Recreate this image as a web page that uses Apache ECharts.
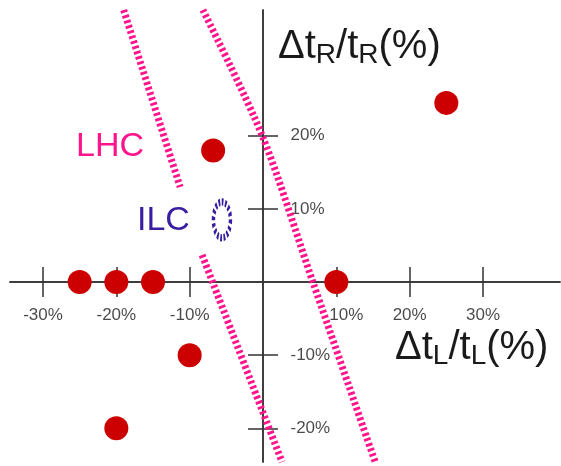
<!DOCTYPE html>
<html><head><meta charset="utf-8">
<script src="https://cdn.jsdelivr.net/npm/echarts@6/dist/echarts.min.js"></script>
<style>html,body{margin:0;padding:0;background:#fff}#c{width:561px;height:466px}</style>
</head><body><div id="c"></div>
<script>
// tick positions (percent)
const xTicks = [-30, -20, -10, 10, 20, 30];
const yTicks = [-20, -10, 10, 20];
// red model points (Δt_L/t_L %, Δt_R/t_R %)
const dotX = [-25, -20, -15, 10, 25, -6.8, -10, -20];
const dotY = [0, 0, 0, 0, 24.5, 18, -10, -20];
// LHC dotted bands
const lhcLeftTopX = [-19.0, -11.3];
const lhcLeftTopY = [37.2, 13.0];
const lhcLeftBotX = [-8.3, 2.6];
const lhcLeftBotY = [3.7, -24.6];
const lhcRightX = [-8.2, -0.1, 6.8, 15.3];
const lhcRightY = [37.2, 20, 0, -24.6];
// ILC ellipse centre
const ilcX = [-5.6];
const ilcY = [8.5];

const FONT = "'Liberation Sans', Arial, sans-serif";
const AX = '#333';
const PINK = '#ff148c';
const BLUE = '#3a1ea0';
const TXT = '#1a1a1a';
const zip = (xs, ys) => xs.map((x, i) => [x, ys[i]]);

const xBase = { type: 'value', min: -34.5, max: 40.5, splitLine: { show: false }, axisLabel: { show: false },
  axisLine: { show: true, onZero: true, lineStyle: { color: AX, width: 1.5 } } };
const yBase = { type: 'value', min: -24.6, max: 37.2, splitLine: { show: false }, axisLabel: { show: false },
  axisLine: { show: true, onZero: true, lineStyle: { color: AX, width: 1.5 } } };
const tickStyle = { color: AX, width: 1.5 };

const chart = echarts.init(document.getElementById('c'));
chart.setOption({
  animation: false,
  grid: { left: 10, right: 1, top: 10, bottom: 4, containLabel: false, outerBoundsMode: 'none' },
  xAxis: [
    Object.assign({}, xBase, { position: 'bottom',
      axisTick: { show: true, customValues: xTicks, length: 15, lineStyle: tickStyle } }),
    Object.assign({}, xBase, { position: 'bottom',
      axisTick: { show: true, inside: true, customValues: xTicks, length: 15, lineStyle: tickStyle } })
  ],
  yAxis: [
    Object.assign({}, yBase, { position: 'left',
      axisTick: { show: true, customValues: yTicks, length: 15, lineStyle: tickStyle } }),
    Object.assign({}, yBase, { position: 'left',
      axisTick: { show: true, inside: true, customValues: yTicks, length: 15, lineStyle: tickStyle } })
  ],
  series: [
    { type: 'line', data: zip(lhcLeftTopX, lhcLeftTopY), symbol: 'none', silent: true,
      lineStyle: { color: PINK, width: 7, type: [2.8, 2.6] } },
    { type: 'line', data: zip(lhcLeftBotX, lhcLeftBotY), symbol: 'none', silent: true,
      lineStyle: { color: PINK, width: 7, type: [2.8, 2.6] } },
    { type: 'line', data: zip(lhcRightX, lhcRightY), symbol: 'none', silent: true, smooth: 0.3,
      lineStyle: { color: PINK, width: 7, type: [2.8, 2.6] } },
    { type: 'scatter', data: zip(ilcX, ilcY), symbol: 'circle', symbolSize: [17, 36], silent: true,
      itemStyle: { color: 'rgba(0,0,0,0)', opacity: 1, borderColor: BLUE, borderWidth: 5, borderType: [2.6, 2.2] } },
    { type: 'scatter', data: zip(dotX, dotY), symbol: 'circle', symbolSize: 24, silent: true,
      itemStyle: { color: '#cc0000', opacity: 1 }, z: 5 },
    // x tick labels, placed through the axis scales
    { type: 'scatter', data: xTicks.map(v => [v, 0]), symbolSize: 1, silent: true,
      itemStyle: { color: 'rgba(0,0,0,0)' },
      label: { show: true, position: 'bottom', distance: 24, color: TXT, fontFamily: FONT, fontSize: 17,
        formatter: p => p.value[0] + '%' },
      labelLayout: p => p.text === '10%' ? { dx: 10 } : {} },
    // y tick labels
    { type: 'scatter', data: yTicks.map(v => [0, v]), symbolSize: 1, silent: true,
      itemStyle: { color: 'rgba(0,0,0,0)' },
      label: { show: true, position: 'right', distance: 27, color: TXT, fontFamily: FONT, fontSize: 17,
        formatter: p => p.value[1] + '%' } }
  ],
  graphic: [
    { type: 'text', left: 76, top: 130, style: { text: 'LHC', fill: PINK, font: "34px " + FONT } },
    { type: 'text', left: 137, top: 204, style: { text: 'ILC', fill: BLUE, font: "34px " + FONT } },
    { type: 'text', left: 278, top: 27, style: {
      text: 'Δt{s|R}/t{s|R}(%)', fill: TXT, font: "40px " + FONT,
      rich: { s: { fontSize: 28, fontFamily: FONT, fill: TXT, padding: [16, 0, 0, 0] } } } },
    { type: 'text', left: 395, top: 328, style: {
      text: 'Δt{s|L}/t{s|L}(%)', fill: TXT, font: "40px " + FONT,
      rich: { s: { fontSize: 28, fontFamily: FONT, fill: TXT, padding: [16, 0, 0, 0] } } } }
  ]
});
</script></body></html>
